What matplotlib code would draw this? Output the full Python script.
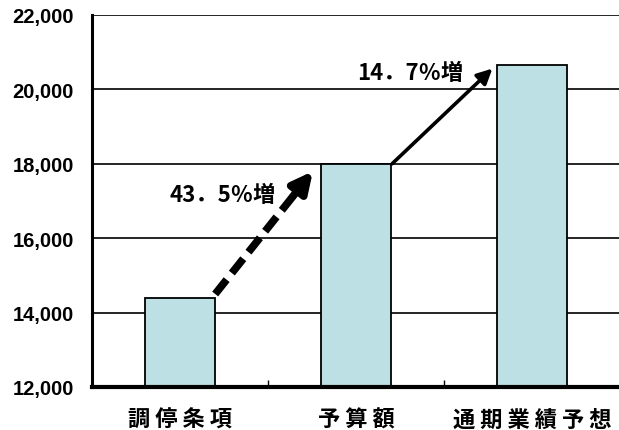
import matplotlib
matplotlib.use("Agg")
import matplotlib.pyplot as plt
from matplotlib.ticker import FuncFormatter, FixedLocator

# Data
categories = ["調停条項", "予算額", "通期業績予想"]
values = [14400, 18000, 20650]
growth_labels = ["43．5％増", "14．7％増"]
y_ticks = [12000, 14000, 16000, 18000, 20000, 22000]

bar_color = "#BCE0E3"
cjk = ["Noto Sans CJK JP", "DejaVu Sans"]

fig = plt.figure(figsize=(6.19, 4.31), dpi=100)
ax = fig.add_axes([92 / 619, 1 - 388 / 431, 528 / 619, 372 / 431])

x = list(range(len(categories)))
ax.bar(x, values, width=0.4, color=bar_color, edgecolor="black",
       linewidth=1.3, zorder=3)

ax.set_ylim(y_ticks[0], y_ticks[-1])
ax.set_xlim(-0.5, len(categories) - 0.5)
ax.set_yticks(y_ticks)
ax.yaxis.set_major_formatter(FuncFormatter(lambda v, p: f"{int(v):,}"))
ax.yaxis.grid(True, color="black", linewidth=1.2, zorder=0)
ax.tick_params(axis="y", length=0, pad=13, labelsize=14.5)
for lbl in ax.get_yticklabels():
    lbl.set_fontfamily("Liberation Sans")
    lbl.set_fontweight("bold")

# Category labels with letter spacing
ax.set_xticks(x)
ax.set_xticklabels([" ".join(c) for c in categories], fontfamily=cjk,
                   fontweight="bold", fontsize=16)
ax.tick_params(axis="x", length=0, pad=15)
ax.xaxis.set_minor_locator(FixedLocator([0.5, 1.5]))
ax.tick_params(axis="x", which="minor", direction="in", length=5, width=1)

for s in ["top", "right"]:
    ax.spines[s].set_visible(False)
ax.spines["left"].set_linewidth(2.2)
ax.spines["bottom"].set_linewidth(3)
ax.spines["left"].set_zorder(4)
ax.spines["bottom"].set_zorder(4)

# Dashed growth arrow: 調停条項 -> 予算額
t0 = (0.20, values[0] + 100)
h0 = (0.755, values[1] - 200)
base0 = (t0[0] + (h0[0] - t0[0]) * 0.80, t0[1] + (h0[1] - t0[1]) * 0.80)
ax.plot([t0[0], base0[0]], [t0[1], base0[1]], color="black", linewidth=5.5,
        linestyle=(0, (2.4, 1.1)), solid_capstyle="butt",
        dash_capstyle="butt", zorder=5)
ax.annotate("", xy=h0, xytext=base0,
            arrowprops=dict(arrowstyle="-|>,head_length=1.2,head_width=0.6",
                            color="black", linewidth=5.5, shrinkA=0, shrinkB=0),
            zorder=5)

# Solid growth arrow: 予算額 -> 通期業績予想
t1 = (1.205, values[1])
h1 = (1.775, values[2] - 90)
ax.annotate("", xy=h1, xytext=t1,
            arrowprops=dict(arrowstyle="-|>,head_length=0.9,head_width=0.45",
                            color="black", linewidth=2.6, shrinkA=0, shrinkB=0),
            zorder=5)

ax.text(0.242, 17175, growth_labels[0], fontfamily=cjk, fontweight="bold",
        fontsize=16, ha="center", va="center", zorder=6)
ax.text(1.31, 20450, growth_labels[1], fontfamily=cjk, fontweight="bold",
        fontsize=16, ha="center", va="center", zorder=6)

fig.savefig("out.png", dpi=100)
